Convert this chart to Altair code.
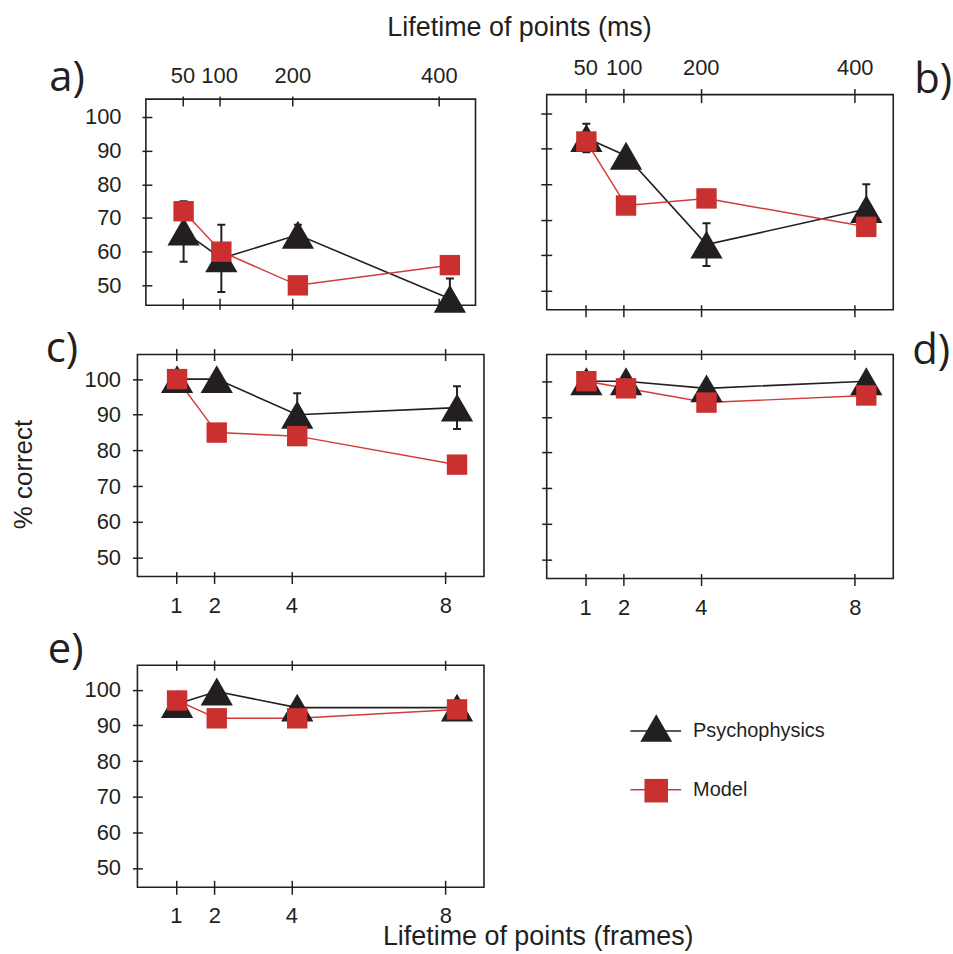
import altair as alt
import pandas as pd

# ---------------- data ----------------
frames = [1, 2, 4, 8]                 # lifetime in frames (1 frame = 50 ms)
x_drawn = [1.03, 2.06, 4.15, 8.3]     # where the markers sit (slightly right of the ticks)
y_ticks = [50, 60, 70, 80, 90, 100]

a_psych = [66, 58, 65, 46]
a_psych_err = [9, 10, 3, 6]
a_model = [72, 60, 50, 56]

b_psych = [93, 88, 63, 73]
b_psych_err = [4, 0, 6, 7]
b_model = [92, 74, 76, 68]

c_psych = [100, 100, 90, 92]
c_psych_err = [0, 0, 6, 6]
c_model = [100, 85, 84, 76]

d_psych = [100, 100, 98, 100]
d_psych_err = [0, 0, 0, 0]
d_model = [100, 98, 94, 96]

e_psych = [96, 99.5, 95, 95]
e_psych_err = [0, 0, 0, 0]
e_model = [97, 92, 92, 94.5]

series_names = ["Psychophysics", "Model"]

# ---------------- styles ----------------
BLACK = "#231f20"
RED = "#c9302f"
RED_LINE = "#d13b38"
NUM_FONT = "Liberation Sans"
LETTER_FONT = "Open Sans"
X_DOMAIN = [0, 9]


def frame_df(psy, err, mod):
    p = pd.DataFrame({"x": x_drawn, "frame": frames, "y": psy, "err": err})
    p["lo"] = p["y"] - p["err"]
    p["hi"] = p["y"] + p["err"]
    m = pd.DataFrame({"x": x_drawn, "frame": frames, "y": mod})
    return p, m


def panel(letter, psy, err, mod, cfg):
    p, m = frame_df(psy, err, mod)
    eb = p[p["err"] > 0]
    pad_top = cfg.get("pad_top", 0)
    view_h = cfg["h"] + pad_top
    xs = alt.Scale(domain=X_DOMAIN, nice=False, zero=False)
    if pad_top:
        ys = alt.Scale(domain=cfg["ydom"], nice=False, zero=False, range=[view_h, pad_top])
    else:
        ys = alt.Scale(domain=cfg["ydom"], nice=False, zero=False)

    top_kw = dict(orient="top", values=frames, offset=-(cfg["top"][0] + pad_top),
                  tickSize=cfg["top"][0] + cfg["top"][1], domain=False, grid=False,
                  tickColor=BLACK, tickWidth=1.5, labels=cfg["top_labels"],
                  labelOverlap=False, labelFlush=False)
    if cfg["top_labels"]:
        top_kw.update(labelExpr="datum.value * 50", labelFont=NUM_FONT, labelFontSize=22,
                      labelColor=BLACK, labelPadding=cfg["top_pad"])
    if cfg.get("top_title"):
        top_kw.update(title=cfg["top_title"], titleFont=NUM_FONT, titleFontSize=27,
                      titleFontWeight="normal", titleColor=BLACK, titleAlign="left",
                      titleBaseline="alphabetic", titleX=cfg["top_title_xy"][0],
                      titleY=cfg["top_title_xy"][1], titleAngle=0)
    else:
        top_kw.update(title=None)
    top_axis = alt.Axis(**top_kw)

    bot_kw = dict(orient="bottom", values=frames, offset=-cfg["bot"][0],
                  tickSize=cfg["bot"][0] + cfg["bot"][1], domain=False, grid=False,
                  tickColor=BLACK, tickWidth=1.5, labels=cfg["bot_labels"],
                  labelOverlap=False, labelFlush=False)
    if cfg["bot_labels"]:
        bot_kw.update(labelFont=NUM_FONT, labelFontSize=22, labelColor=BLACK,
                      labelPadding=cfg["bot_pad"], labelBaseline="top")
    if cfg.get("bot_title"):
        bot_kw.update(title=cfg["bot_title"], titleFont=NUM_FONT, titleFontSize=27,
                      titleFontWeight="normal", titleColor=BLACK, titleAlign="left",
                      titleBaseline="alphabetic", titleX=cfg["bot_title_xy"][0],
                      titleY=cfg["bot_title_xy"][1], titleAngle=0)
    else:
        bot_kw.update(title=None)
    bot_axis = alt.Axis(**bot_kw)

    y_kw = dict(orient="left", values=y_ticks, offset=-cfg["left"][0],
                tickSize=cfg["left"][0] + cfg["left"][1], domain=False, grid=False,
                tickColor=BLACK, tickWidth=1.5, labels=cfg["left_labels"],
                labelOverlap=False, labelFlush=False)
    if cfg["left_labels"]:
        y_kw.update(labelFont=NUM_FONT, labelFontSize=22, labelColor=BLACK,
                    labelPadding=cfg["left_pad"])
    if cfg.get("y_title"):
        y_kw.update(title=cfg["y_title"], titleFont=NUM_FONT, titleFontSize=26,
                    titleFontWeight="normal", titleColor=BLACK, titleAngle=-90,
                    titleAlign="center", titleBaseline="middle",
                    titleX=cfg["y_title_xy"][0], titleY=cfg["y_title_xy"][1])
    else:
        y_kw.update(title=None)
    y_axis = alt.Axis(**y_kw)

    def Y(field):
        return alt.Y(field, scale=ys, axis=y_axis)

    def X(axis=None, field="x:Q"):
        return alt.X(field, scale=xs, axis=axis)

    psy_line = alt.Chart(p).mark_line(color=BLACK, strokeWidth=1.6).encode(
        x=X(top_axis), y=Y("y:Q"))
    mod_line = alt.Chart(m).mark_line(color=RED_LINE, strokeWidth=1.5).encode(
        x=X(), y=Y("y:Q"))
    bars = alt.Chart(eb).mark_rule(color=BLACK, strokeWidth=2, clip=True).encode(
        x=X(), y=Y("lo:Q"), y2="hi:Q")
    cap_lo = alt.Chart(eb).mark_tick(color=BLACK, orient="horizontal", size=8,
                                     thickness=2, clip=True, opacity=1).encode(
        x=X(), y=Y("lo:Q"))
    cap_hi = alt.Chart(eb).mark_tick(color=BLACK, orient="horizontal", size=8,
                                     thickness=2, clip=True, opacity=1).encode(
        x=X(), y=Y("hi:Q"))
    tri = alt.Chart(p).mark_point(shape="triangle-up", filled=True, size=1050,
                                  color=BLACK, opacity=1, strokeWidth=0).encode(
        x=X(bot_axis), y=Y("y:Q"))
    sq = alt.Chart(m).mark_point(shape="square", filled=True, size=420,
                                 color=RED, opacity=1, strokeWidth=0).encode(
        x=X(), y=Y("y:Q"))
    lab = alt.Chart(pd.DataFrame({"t": [letter + ")"]})).mark_text(
        font=LETTER_FONT, fontSize=42, color=BLACK, align="left", baseline="alphabetic"
    ).encode(text="t:N", x=alt.value(cfg["letter"][0]), y=alt.value(cfg["letter"][1]))

    layers = []
    props = dict(width=cfg["w"], height=view_h)
    if pad_top:
        # the plot frame is drawn around the scale domain (view itself is taller)
        box = pd.DataFrame({"x0": [X_DOMAIN[0]], "x1": [X_DOMAIN[1]],
                            "y0": [cfg["ydom"][0]], "y1": [cfg["ydom"][1]]})
        layers.append(alt.Chart(box).mark_rect(fill="transparent", stroke=BLACK,
                                               strokeWidth=1.6).encode(
            x=X(field="x0:Q"), x2="x1:Q", y=Y("y0:Q"), y2="y1:Q"))
        props["view"] = alt.ViewConfig(stroke="transparent")
    layers += [psy_line, mod_line]
    if len(eb):
        layers += [bars, cap_lo, cap_hi]
    layers += [tri, sq, lab]
    return alt.layer(*layers).resolve_axis(x="independent").properties(**props)


cfg_a = dict(w=331, h=207, ydom=[44.1, 105.3], top=(7, 3), top_labels=True, top_pad=9,
             top_title="Lifetime of points (ms)", top_title_xy=(242, -71),
             bot=(7, 4), bot_labels=False, left=(6, 4), left_labels=True, left_pad=21,
             letter=(-97, -8))
cfg_b = dict(w=348, h=216, ydom=[44.7, 105.2], top=(8, 6), top_labels=True, top_pad=9,
             bot=(5, 7), bot_labels=False, left=(5, 6), left_labels=False,
             letter=(369, -2))
cfg_c = dict(w=348, h=223, ydom=[44.6, 106.9], top=(6, 6), top_labels=False,
             bot=(5, 7), bot_labels=True, bot_pad=12, left=(5, 5), left_labels=True,
             left_pad=12, y_title="% correct", y_title_xy=(-119, 120), letter=(-92, 8))
cfg_d = dict(w=348, h=225, ydom=[44.6, 107.5], top=(5, 5), top_labels=False,
             bot=(5, 7), bot_labels=True, bot_pad=12, left=(5, 5), left_labels=False,
             letter=(367, 10))
cfg_e = dict(w=348, h=223, pad_top=42, ydom=[44.6, 106.9], top=(5, 5), top_labels=False,
             bot=(7, 7), bot_labels=True, bot_pad=11, left=(5, 5), left_labels=True,
             left_pad=12, bot_title="Lifetime of points (frames)", bot_title_xy=(246, 64),
             letter=(-90, 40))

pa = panel("a", a_psych, a_psych_err, a_model, cfg_a)
pb = panel("b", b_psych, b_psych_err, b_model, cfg_b)
pc = panel("c", c_psych, c_psych_err, c_model, cfg_c)
pd_ = panel("d", d_psych, d_psych_err, d_model, cfg_d)
pe = panel("e", e_psych, e_psych_err, e_model, cfg_e)

# ---------------- legend (drawn key, in the empty grid cell) ----------------
leg_rows = {"Psychophysics": dict(y=108, my=105, color=BLACK, line=BLACK, shape="triangle-up", size=1024),
            "Model": dict(y=167, my=168, color=RED, line=RED_LINE, shape="square", size=560)}
leg_layers = []
for name in series_names:
    r = leg_rows[name]
    d = pd.DataFrame({"series": [name]})
    leg_layers.append(alt.Chart(d).mark_rule(strokeWidth=1.6, color=r["line"]).encode(
        x=alt.value(84), x2=alt.value(135), y=alt.value(r["y"])))
    leg_layers.append(alt.Chart(d).mark_point(shape=r["shape"], filled=True, size=r["size"],
                                              color=r["color"], opacity=1, strokeWidth=0).encode(
        x=alt.value(110), y=alt.value(r["my"])))
    leg_layers.append(alt.Chart(d).mark_text(font=NUM_FONT, fontSize=20, color=BLACK,
                                             align="left", baseline="middle").encode(
        x=alt.value(147), y=alt.value(r["y"]), text="series:N"))
legend = alt.layer(*leg_layers).properties(
    width=348, height=265, view=alt.ViewConfig(stroke="transparent"))

chart = alt.concat(pa, pb, pc, pd_, pe, legend, columns=2,
                   spacing={"row": 45, "column": 63}, bounds="flush", center=True,
                   align="each").configure_view(stroke=BLACK, strokeWidth=1.6).properties(
    padding={"left": 10, "top": 10, "right": 0, "bottom": 0}, background="white")

chart.save("out.html", embed_options={"renderer": "svg", "actions": False})
